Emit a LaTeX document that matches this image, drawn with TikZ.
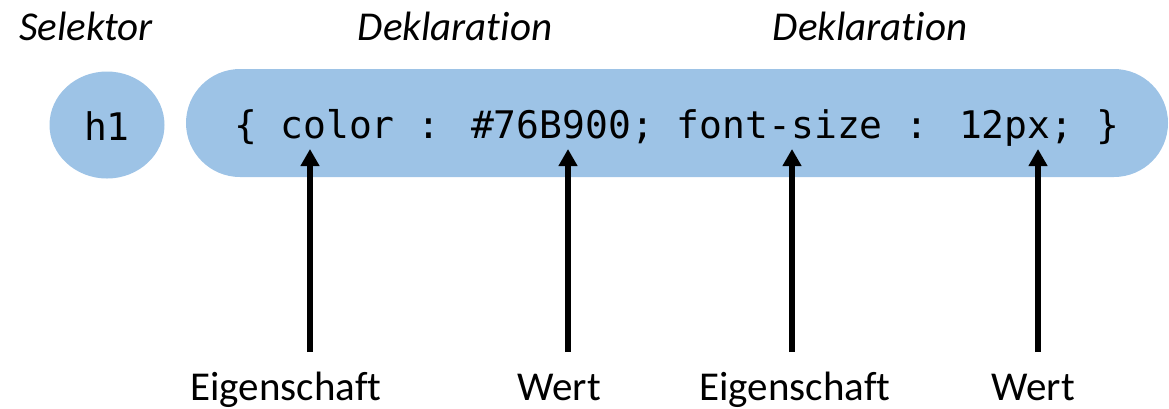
\documentclass[tikz,border=0pt]{standalone}
\usepackage{fontspec}
\setmainfont[Ligatures=NoCommon]{Carlito}
\newfontfamily\codefont{DejaVu Sans Mono}
\usetikzlibrary{arrows.meta,shapes.geometric}
\definecolor{pillblue}{HTML}{9DC3E6}
\tikzset{
  codetext/.style={font=\codefont\fontsize{38}{44}\selectfont, text height=40pt, text depth=10pt, inner sep=0pt},
  pill/.style={codetext, fill=pillblue, rounded corners=54pt, minimum width=982pt, minimum height=108pt},
  selbox/.style={codetext, fill=pillblue, ellipse, minimum width=115pt, minimum height=107pt},
  toplabel/.style={font=\fontsize{41}{48}\selectfont\itshape, anchor=base, inner sep=0pt},
  botlabel/.style={font=\fontsize{41}{48}\selectfont, anchor=base, inner sep=0pt},
  pointer/.style={line width=5.5pt, -{Triangle[length=17pt,width=18pt]}}
}
\begin{document}
\begin{tikzpicture}[x=1pt,y=-1pt]
\useasboundingbox (0,0) rectangle (1169,408);
\node[selbox] (sel) at (107,125) {h1};
\node[pill] (decl) at (677,123) {\{ color : \#76B900; font-size : 12px; \}};
\node[toplabel] (lsel) at (86,40) {Selektor};
\node[toplabel] (ld1) at (455,40) {Deklaration};
\node[toplabel] (ld2) at (870,40) {Deklaration};
\node[botlabel] (e1) at (286,400) {Eigenschaft};
\node[botlabel] (w1) at (559,400) {Wert};
\node[botlabel] (e2) at (795,400) {Eigenschaft};
\node[botlabel] (w2) at (1033,400) {Wert};
\coordinate (s1) at (310,352); \coordinate (t1) at (310,149);
\coordinate (s2) at (568,352); \coordinate (t2) at (568,149);
\coordinate (s3) at (792,352); \coordinate (t3) at (792,149);
\coordinate (s4) at (1038,352); \coordinate (t4) at (1038,149);
\draw[pointer] (s1) -- (t1);
\draw[pointer] (s2) -- (t2);
\draw[pointer] (s3) -- (t3);
\draw[pointer] (s4) -- (t4);
\end{tikzpicture}
\end{document}
